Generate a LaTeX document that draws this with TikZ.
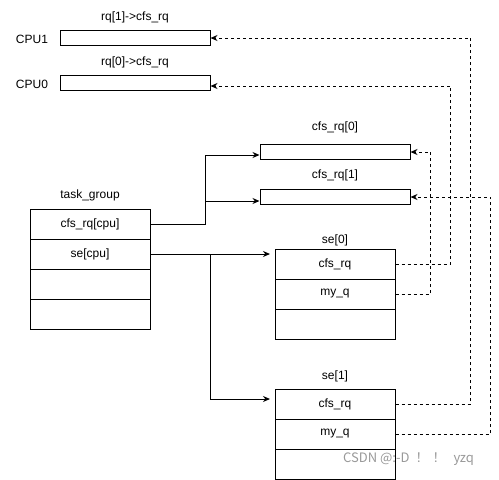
\documentclass[tikz,border=0pt]{standalone}
\usepackage{fontspec}
\setmainfont{Liberation Sans}
\newfontfamily\cjk{Noto Sans CJK SC}
\usetikzlibrary{arrows.meta}

\tikzset{
  every node/.style={font=\fontsize{12}{14}\selectfont},
  field/.style={draw=black, line width=1pt, minimum width=120pt, minimum height=30pt, inner sep=0pt},
  slot/.style={draw=black, line width=1pt, minimum width=150pt, minimum height=15pt, inner sep=0pt},
  link/.style={->, line width=1pt, >={Stealth[length=7pt,width=6pt]}},
  ptr/.style={link, dashed, dash pattern=on 3pt off 3pt}
}

\begin{document}
\begin{tikzpicture}[x=1pt, y=-1pt]
  \useasboundingbox (0,0) rectangle (499,480);

  \node (rq1) at (135,17) {rq[1]->cfs\_rq};
  \node (cpu1l) at (32,39) {CPU1};
  \node [slot] (cpu1) at (135,38) {};
  \node (rq0) at (135,62) {rq[0]->cfs\_rq};
  \node (cpu0l) at (32,84) {CPU0};
  \node [slot] (cpu0) at (135,83) {};

  \node (cfs0l) at (335,127) {cfs\_rq[0]};
  \node [slot] (cfs0) at (335,152) {};
  \node (cfs1l) at (335,175) {cfs\_rq[1]};
  \node [slot] (cfs1) at (335,197) {};

  \node (tgl) at (90,195) {task\_group};
  \node [field] (cfscpu) at (90,224) {cfs\_rq[cpu]};
  \node [field] (secpu) at (90,254) {se[cpu]};
  \node [field] (tg3) at (90,284) {};
  \node [field] (tg4) at (90,314) {};

  \node (se0l) at (335,240) {se[0]};
  \node [field] (s0cfs) at (335,264) {cfs\_rq};
  \node [field] (s0my) at (335,294) {my\_q};
  \node [field] (s0e) at (335,324) {};

  \node (se1l) at (335,376) {se[1]};
  \node [field] (s1cfs) at (335,404) {cfs\_rq};
  \node [field] (s1my) at (335,434) {my\_q};
  \node [field] (s1e) at (335,464) {};

  \coordinate (s0in) at (270,254);
  \coordinate (s1in) at (270,399);

  \node [text=black!40, anchor=west, inner sep=0pt] (mark) at (343,459)
    {\cjk\fontsize{13}{15}\selectfont CSDN @:-D\hspace{6pt}！\hspace{4pt}！\hspace{8pt}yzq};

  \draw [link] (cfscpu.east) -- ++(55,0) |- ([yshift=-3pt]cfs0.west);
  \draw [link] (cfscpu.east) -- ++(55,0) |- ([yshift=-4pt]cfs1.west);
  \draw [link] (secpu.east) -- (s0in);
  \draw [link] (secpu.east) -- ++(60,0) |- (s1in);

  \draw [ptr] (s0my.east) -- ++(35,0) |- (cfs0.east);
  \draw [ptr] (s0cfs.east) -- ++(55,0) |- ([yshift=-3pt]cpu0.east);
  \draw [ptr] (s1cfs.east) -- ++(75,0) |- (cpu1.east);
  \draw [ptr] (s1my.east) -- ++(95,0) |- (cfs1.east);
\end{tikzpicture}
\end{document}
